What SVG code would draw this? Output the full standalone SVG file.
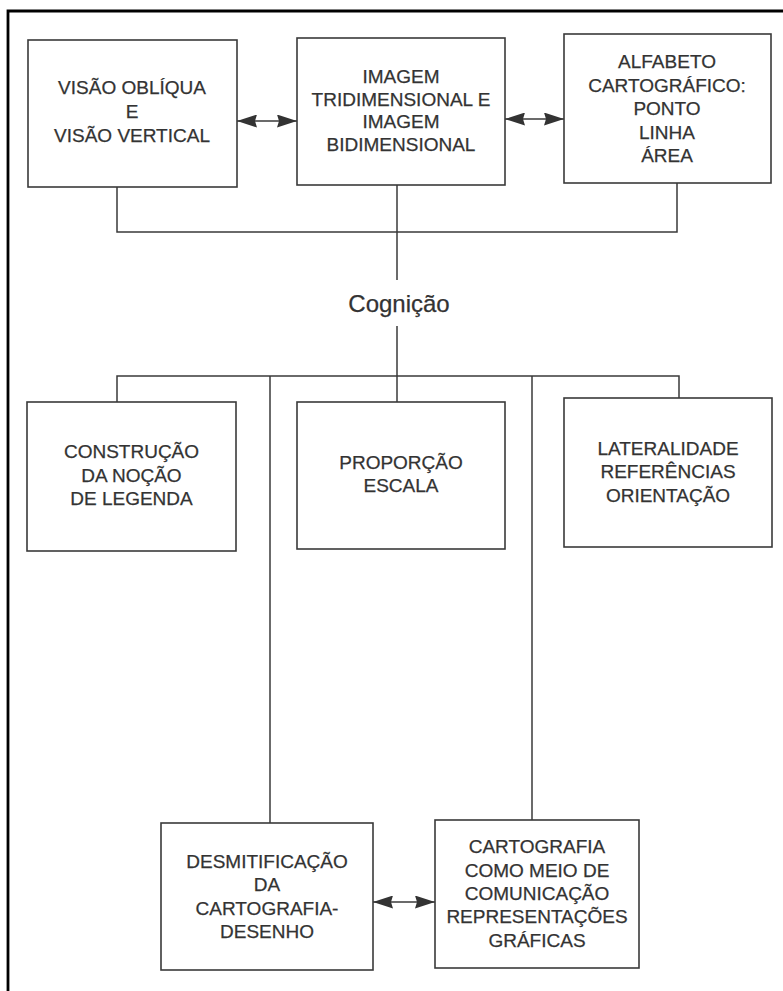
<svg xmlns="http://www.w3.org/2000/svg" width="783" height="991" viewBox="0 0 783 991">
<defs>
<style>
.box{fill:none;stroke:#3a3a3a;stroke-width:1.6}
.ln{fill:none;stroke:#3a3a3a;stroke-width:1.5}
.frame{fill:none;stroke:#000;stroke-width:2.8}
text{font-family:"Liberation Sans",Arial,sans-serif;font-size:19px;fill:#333;stroke:#333;stroke-width:0.25;text-anchor:middle}
.big{font-size:24px}
</style>
<marker id="ah" viewBox="0 0 20 13" refX="20" refY="6.5" markerWidth="20" markerHeight="13" markerUnits="userSpaceOnUse" orient="auto-start-reverse">
<path d="M0,0 L20,6.5 L0,13 L2,6.5 Z" fill="#333"/>
</marker>
</defs>
<rect width="783" height="991" fill="#fff"/>
<path class="frame" d="M8,991 V11 H783"/>

<g id="connectors">
<path class="ln" d="M117,187 V232 H677 V183"/>
<path class="ln" d="M397,185 V280"/>
<path class="ln" d="M397,326 V402"/>
<path class="ln" d="M117,402 V376 H679 V398"/>
<path class="ln" d="M270,376 V823"/>
<path class="ln" d="M532,376 V820"/>
<path class="ln" d="M237,121 H297" marker-start="url(#ah)" marker-end="url(#ah)"/>
<path class="ln" d="M505,119 H564" marker-start="url(#ah)" marker-end="url(#ah)"/>
<path class="ln" d="M373,902 H435" marker-start="url(#ah)" marker-end="url(#ah)"/>
</g>

<g id="n1">
<rect class="box" x="28" y="40" width="209" height="147"/>
<text x="132" y="94">VISÃO OBLÍQUA</text>
<text x="132" y="118">E</text>
<text x="132" y="142">VISÃO VERTICAL</text>
</g>
<g id="n2">
<rect class="box" x="297" y="38" width="208" height="147"/>
<text x="401" y="83">IMAGEM</text>
<text x="401" y="105.5">TRIDIMENSIONAL E</text>
<text x="401" y="128">IMAGEM</text>
<text x="401" y="150.5">BIDIMENSIONAL</text>
</g>
<g id="n3">
<rect class="box" x="564" y="34" width="207" height="149"/>
<text x="667" y="68">ALFABETO</text>
<text x="667" y="91.5">CARTOGRÁFICO:</text>
<text x="667" y="115">PONTO</text>
<text x="667" y="138.5">LINHA</text>
<text x="667" y="162">ÁREA</text>
</g>
<g id="cognicao">
<text class="big" x="399" y="312">Cognição</text>
</g>
<g id="n4">
<rect class="box" x="27" y="402" width="209" height="149"/>
<text x="131.5" y="458">CONSTRUÇÃO</text>
<text x="131.5" y="481.5">DA NOÇÃO</text>
<text x="131.5" y="505">DE LEGENDA</text>
</g>
<g id="n5">
<rect class="box" x="297" y="402" width="208" height="147"/>
<text x="401" y="469">PROPORÇÃO</text>
<text x="401" y="492">ESCALA</text>
</g>
<g id="n6">
<rect class="box" x="564" y="398" width="208" height="149"/>
<text x="668" y="455">LATERALIDADE</text>
<text x="668" y="478">REFERÊNCIAS</text>
<text x="668" y="502">ORIENTAÇÃO</text>
</g>
<g id="n7">
<rect class="box" x="161" y="823" width="212" height="147"/>
<text x="267" y="868">DESMITIFICAÇÃO</text>
<text x="267" y="891">DA</text>
<text x="267" y="915">CARTOGRAFIA-</text>
<text x="267" y="938">DESENHO</text>
</g>
<g id="n8">
<rect class="box" x="435" y="820" width="204" height="148"/>
<text x="537" y="853">CARTOGRAFIA</text>
<text x="537" y="877">COMO MEIO DE</text>
<text x="537" y="900">COMUNICAÇÃO</text>
<text x="537" y="923">REPRESENTAÇÕES</text>
<text x="537" y="947">GRÁFICAS</text>
</g>
</svg>
